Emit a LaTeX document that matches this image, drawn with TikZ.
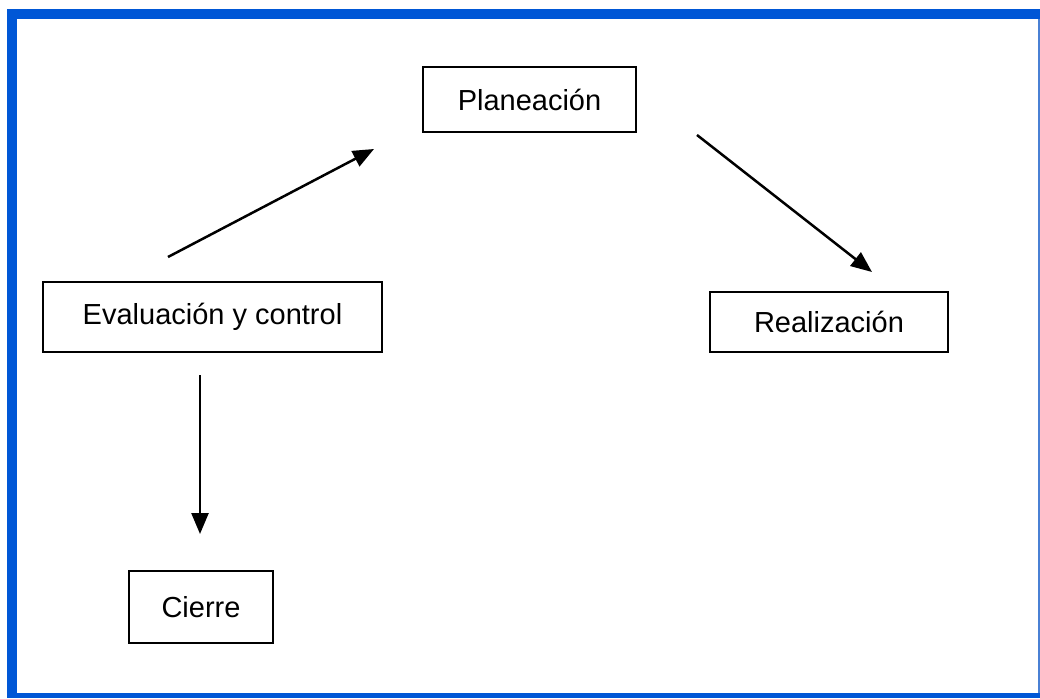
\documentclass[tikz,border=0pt]{standalone}
\usepackage{fontspec}
\setmainfont{Liberation Sans}
\usetikzlibrary{arrows.meta}
\definecolor{frameblue}{HTML}{0057D6}
\definecolor{edgeblue}{HTML}{4A80D4}
\begin{document}
\begin{tikzpicture}[x=1pt,y=-1pt,
  stagebox/.style={draw=black,line width=2.2pt,fill=white,inner sep=0pt,
    font=\fontsize{29}{35}\selectfont},
  flow/.style={line width=2.5pt,-{Triangle[length=21pt,width=17pt]}}]
  \useasboundingbox (0,0) rectangle (1040,698);
  \fill[white] (0,0) rectangle (1040,698);
  % page border
  \fill[frameblue] (7,9) rectangle (17,698);
  \fill[frameblue] (7,9) rectangle (1040,19);
  \fill[frameblue] (7,693) rectangle (1040,698);
  \fill[edgeblue] (1038,19) rectangle (1040,693);
  % stages
  \node[stagebox,minimum width=213pt,minimum height=65pt] (plan) at (529.5,99.5) {Planeación};
  \node[stagebox,minimum width=339pt,minimum height=70pt] (eval) at (212.5,317) {Evaluación y control};
  \node[stagebox,minimum width=238pt,minimum height=60pt] (real) at (829,322) {Realización};
  \node[stagebox,minimum width=144pt,minimum height=72pt] (cier) at (201,607) {Cierre};
  % free arrow ends
  \coordinate (a1s) at (168,257);
  \coordinate (a1e) at (374,149);
  \coordinate (a2s) at (697,135);
  \coordinate (a2e) at (872,272);
  \coordinate (a3s) at (200,375);
  \coordinate (a3e) at (200,534);
  \draw[flow] (a1s) -- (a1e);
  \draw[flow] (a2s) -- (a2e);
  \draw[flow] (a3s) -- (a3e);
\end{tikzpicture}
\end{document}
